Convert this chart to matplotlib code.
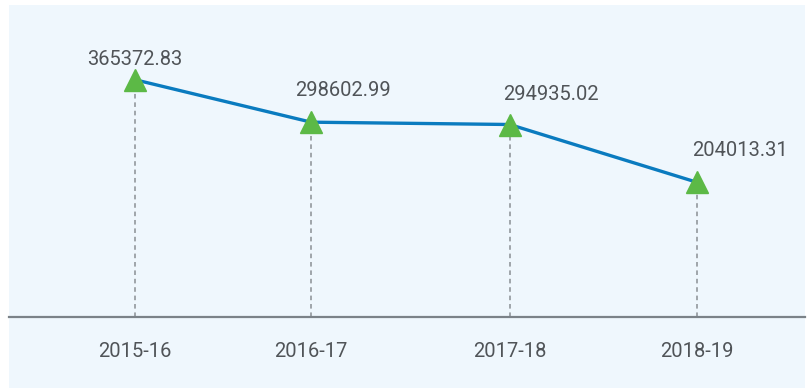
import matplotlib
matplotlib.use("Agg")
import matplotlib.pyplot as plt

# Data
years = ["2015-16", "2016-17", "2017-18", "2018-19"]
values = [365372.83, 298602.99, 294935.02, 204013.31]

# Layout: horizontal slot for each year, and label offsets (points) from each point
x_pos = [0, 0.94, 2, 3]
label_dx = [0, 23, 30, 31]
label_dy = [8, 16, 15, 16]

W, H = 810, 388
fig = plt.figure(figsize=(W / 100, H / 100), dpi=100)
fig.patch.set_facecolor("white")

# Light panel behind the chart
bg = fig.add_axes([9 / W, 0, (805 - 9) / W, (388 - 5) / H], zorder=-10)
bg.set_facecolor("#eff7fd")
bg.set_xticks([])
bg.set_yticks([])
for s in bg.spines.values():
    s.set_visible(False)

# Axes: bottom edge is the baseline, top at panel top
ax = fig.add_axes([9 / W, (388 - 317) / H, (805 - 9) / W, (317 - 5) / H])
ax.patch.set_alpha(0)
y_bottom, y_top = -8000, 483000
ax.set_ylim(y_bottom, y_top)
ax.set_xlim(-0.673, 3.577)

for s in ["top", "left", "right"]:
    ax.spines[s].set_visible(False)
ax.spines["bottom"].set_color("#7b8288")
ax.spines["bottom"].set_linewidth(1.6)
ax.set_yticks([])
ax.set_xticks(x_pos)
txt_color = "#505458"
ax.set_xticklabels(years, fontfamily="Roboto", fontsize=14.5, color=txt_color)
ax.tick_params(axis="x", length=0, pad=18)

# Dashed drop lines
ax.vlines(x_pos, y_bottom, values, colors="#8a8f94", linestyles=(0, (3, 2.5)),
          linewidth=1.1, zorder=2)

# Line and markers
ax.plot(x_pos, values, color="#0a7bbf", linewidth=2.4, zorder=3,
        solid_capstyle="butt")
ax.plot(x_pos, values, linestyle="none", marker="^", markersize=16,
        color="#5cb946", markeredgecolor="#5cb946", zorder=4)

for x, v, dx, dy in zip(x_pos, values, label_dx, label_dy):
    ax.annotate(f"{v:.2f}", (x, v), xytext=(dx, dy), textcoords="offset points",
                ha="center", va="bottom", fontfamily="Roboto", fontsize=14.5,
                color=txt_color, zorder=5)

fig.savefig("out.png", dpi=100)
